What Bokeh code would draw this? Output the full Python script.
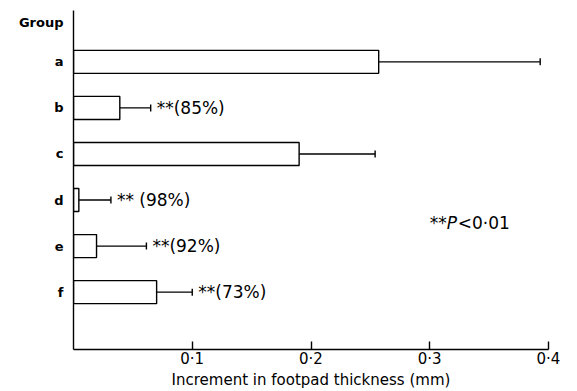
from bokeh.plotting import figure
from bokeh.models import Range1d, FixedTicker, Whisker, TeeHead, ColumnDataSource, Label
from bokeh.core.properties import value
from bokeh.embed import file_html
from bokeh.resources import INLINE

# ---- data ----
groups = ["a", "b", "c", "d", "e", "f"]
means = [0.257, 0.039, 0.190, 0.0045, 0.0194, 0.070]
errors = [0.136, 0.026, 0.064, 0.027, 0.042, 0.030]
notes = ["", "**(85%)", "", "** (98%)", "**(92%)", "**(73%)"]
x_ticks = [0.1, 0.2, 0.3, 0.4]
x_tick_labels = ["0·1", "0·2", "0·3", "0·4"]
y_title = "Group"
x_title = "Increment in footpad thickness (mm)"

FONT = "DejaVu Sans"

ypos = [float(i + 1) for i in range(len(groups))]
upper = [m + e for m, e in zip(means, errors)]
src = ColumnDataSource(dict(y=ypos, m=means, hi=upper, note=notes))

p = figure(width=577, height=391, output_backend="svg", toolbar_location=None,
           x_range=Range1d(0, 0.4), y_range=Range1d(7.245, -0.115),
           min_border_left=73, min_border_right=29, min_border_top=10, min_border_bottom=41)
p.outline_line_color = None
p.grid.visible = False
p.background_fill_color = "white"

p.hbar(y="y", left=0, right="m", height=0.5, source=src,
       fill_color="white", line_color="black", line_width=1.4)

w = Whisker(source=src, base="y", lower="m", upper="hi", dimension="width",
            lower_head=None,
            upper_head=TeeHead(size=7, line_width=1.4, line_color="black"),
            line_width=1.4, line_color="black")
p.add_layout(w)

p.text(x="hi", y="y", text="note", source=src, x_offset=6,
       text_baseline="middle", text_align="left",
       text_font=value(FONT), text_font_size="17px", text_color="black")

# significance note: **P<0·01 with italic P
nx, ny = 0.30, 4.5
p.add_layout(Label(x=nx, y=ny, text="**", text_baseline="middle", text_align="left",
                   text_font=FONT, text_font_size="17px", text_color="black"))
p.add_layout(Label(x=nx, y=ny, x_offset=17, text="P", text_baseline="middle", text_align="left",
                   text_font=FONT, text_font_size="17px", text_font_style="italic", text_color="black"))
p.add_layout(Label(x=nx, y=ny, x_offset=28, text="<0·01", text_baseline="middle", text_align="left",
                   text_font=FONT, text_font_size="17px", text_color="black"))

# x axis
xa = p.xaxis[0]
xa.ticker = FixedTicker(ticks=x_ticks)
xa.major_label_overrides = {t: l for t, l in zip(x_ticks, x_tick_labels)}
xa.major_tick_in = 8
xa.major_tick_out = 0
xa.minor_tick_line_color = None
xa.axis_line_width = 1.4
xa.major_tick_line_width = 1.4
xa.major_label_text_font = FONT
xa.major_label_text_font_size = "15px"
xa.major_label_text_color = "black"
xa.major_label_standoff = 0
xa.axis_label = x_title
xa.axis_label_text_font = FONT
xa.axis_label_text_font_size = "15px"
xa.axis_label_text_font_style = "normal"
xa.axis_label_text_color = "black"
xa.axis_label_standoff = 0

# y axis
ya = p.yaxis[0]
ya.ticker = FixedTicker(ticks=[0.15] + ypos)
ov = {0.15: y_title}
ov.update({y: g for y, g in zip(ypos, groups)})
ya.major_label_overrides = ov
ya.major_tick_line_color = None
ya.major_tick_in = 0
ya.major_tick_out = 0
ya.minor_tick_line_color = None
ya.axis_line_width = 1.4
ya.major_label_standoff = 10
ya.major_label_text_font = FONT
ya.major_label_text_font_size = "13px"
ya.major_label_text_font_style = "bold"
ya.major_label_text_color = "black"

open("out.html", "w").write(file_html(p, INLINE))
